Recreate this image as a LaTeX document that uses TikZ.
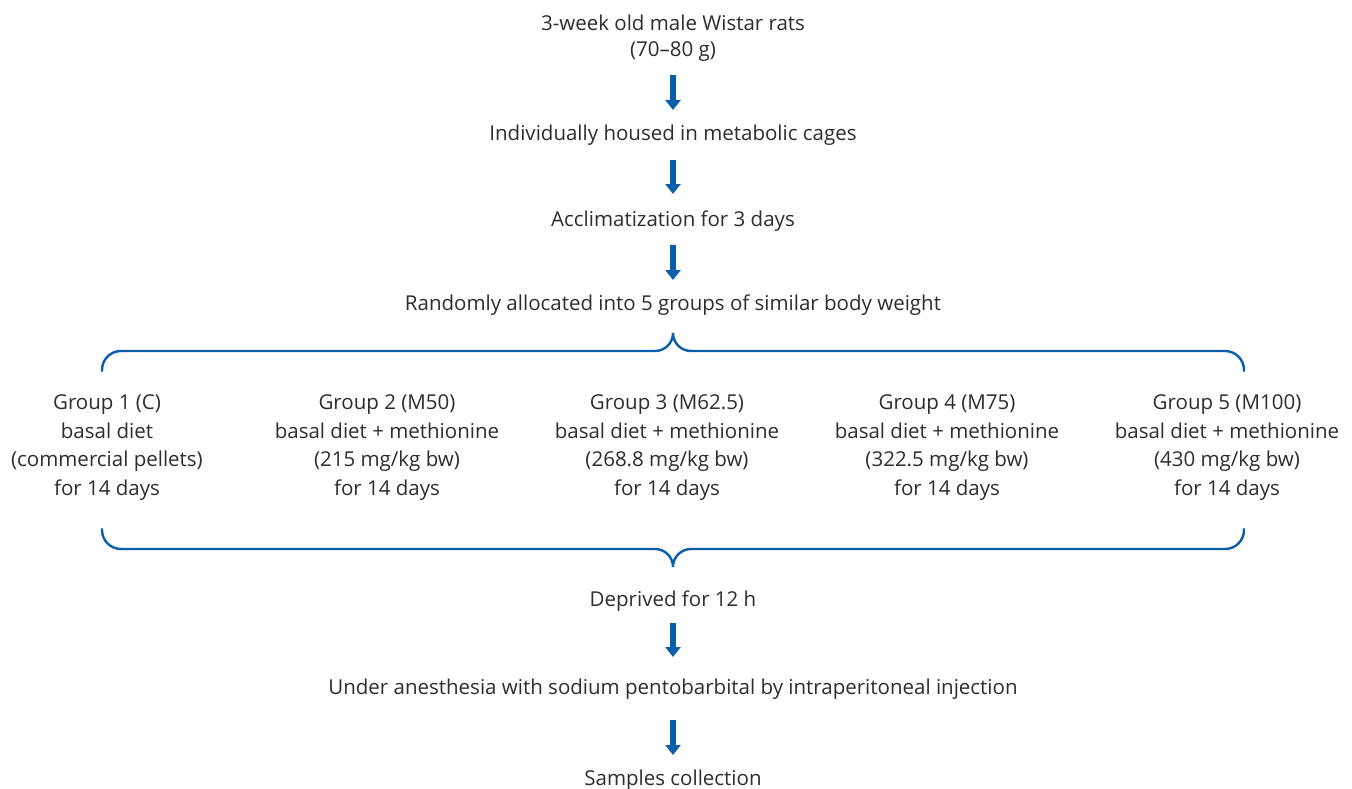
\documentclass[tikz,border=0pt]{standalone}
\usepackage{fontspec}
\setmainfont{Open Sans}
\usetikzlibrary{arrows.meta}
\definecolor{flowblue}{RGB}{12,94,170}
\definecolor{txt}{RGB}{45,45,45}
\tikzset{
  lbl/.style={text=txt, font=\fontsize{20.5}{28.5}\selectfont, inner sep=0pt, align=center},
  arr/.style={draw=flowblue, line width=6pt, -{Triangle[width=15pt,length=10pt]}, shorten <=24pt, shorten >=23pt},
  brace/.style={draw=flowblue, line width=2.4pt, line cap=round}
}
\begin{document}
\begin{tikzpicture}[x=1pt,y=-1pt]
\useasboundingbox (0,0) rectangle (1352,789);
\node[lbl] (t1) at (673,23) {3-week old male Wistar rats};
\node[lbl] (t1b) at (673,52) {(70–80 g)};
\node[lbl] (t2) at (673,135) {Individually housed in metabolic cages};
\node[lbl] (t3) at (673,221) {Acclimatization for 3 days};
\node[lbl] (t4) at (673,305) {Randomly allocated into 5 groups of similar body weight};
\node[lbl] (g1) at (107,447.5) {Group 1 (C)\\basal diet\\(commercial pellets)\\for 14 days};
\node[lbl] (g2) at (387,447.5) {Group 2 (M50)\\basal diet + methionine\\(215 mg/kg bw)\\for 14 days};
\node[lbl] (g3) at (667,447.5) {Group 3 (M62.5)\\basal diet + methionine\\(268.8 mg/kg bw)\\for 14 days};
\node[lbl] (g4) at (947,447.5) {Group 4 (M75)\\basal diet + methionine\\(322.5 mg/kg bw)\\for 14 days};
\node[lbl] (g5) at (1227,447.5) {Group 5 (M100)\\basal diet + methionine\\(430 mg/kg bw)\\for 14 days};
\node[lbl] (t5) at (673,601) {Deprived for 12 h};
\node[lbl] (t6) at (673,689) {Under anesthesia with sodium pentobarbital by intraperitoneal injection};
\node[lbl] (t7) at (673,780) {Samples collection};
\draw[arr, shorten <=23pt, shorten >=25pt] (t1b.center) -- (t2.center);
\draw[arr, shorten <=25pt, shorten >=27pt] (t2.center) -- (t3.center);
\draw[arr, shorten <=24pt, shorten >=25pt] (t3.center) -- (t4.center);
\draw[arr, shorten <=22pt, shorten >=32pt] (t5.center) -- (t6.center);
\draw[arr, shorten <=31pt, shorten >=25pt] (t6.center) -- (t7.center);
% top brace
\draw[brace] (102,371) -- (102,370) .. controls (102,359.5) and (110.5,351) .. (121,351)
  -- (655,351) .. controls (665,351) and (673,343) .. (673,333)
  .. controls (673,343) and (681,351) .. (691,351)
  -- (1225,351) .. controls (1235.5,351) and (1244,359.5) .. (1244,370) -- (1244,371);
% bottom brace
\draw[brace] (102,529) -- (102,530) .. controls (102,540.5) and (110.5,549) .. (121,549)
  -- (655,549) .. controls (665,549) and (673,557) .. (673,567)
  .. controls (673,557) and (681,549) .. (691,549)
  -- (1225,549) .. controls (1235.5,549) and (1244,540.5) .. (1244,530) -- (1244,529);
\end{tikzpicture}
\end{document}
